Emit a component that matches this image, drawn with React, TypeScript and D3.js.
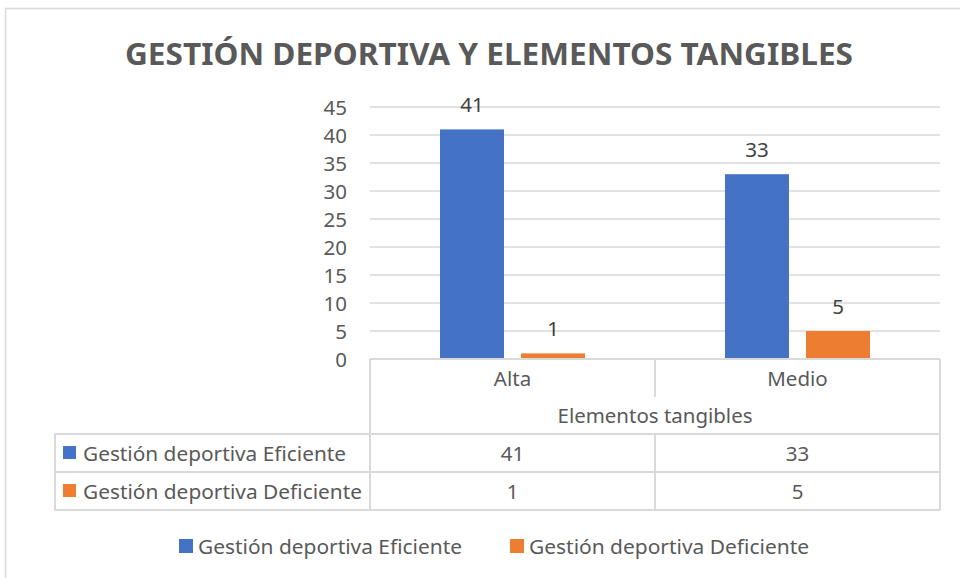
import React from 'react';
import * as d3 from 'd3';

const title = 'GESTIÓN DEPORTIVA Y ELEMENTOS TANGIBLES';
const categories = ['Alta', 'Medio'];
const axisTitle = 'Elementos tangibles';
const seriesNames = ['Gestión deportiva Eficiente', 'Gestión deportiva Deficiente'];
const eficiente = [41, 33];
const deficiente = [1, 5];
const seriesColors = ['#4472C4', '#ED7D31'];
const yMax = 45;

const FONT = '"Noto Sans", "Open Sans", sans-serif';
const TXT = '#595959';
const GRID = '#D9D9D9';
const FS = 20.5;

export default function App() {
  const W = 960, H = 578;
  const left = 370, right = 940, top = 107, bottom = 359;
  const values = [eficiente, deficiente];
  const y = d3.scaleLinear().domain([0, yMax]).range([bottom, top]);
  const x0 = d3.scaleBand<string>().domain(categories).range([left, right]).padding(0);
  const groupW = 145;
  const x1 = d3.scaleBand<string>().domain(seriesNames).range([0, groupW]).paddingInner(0.21).paddingOuter(0);
  const ticks = y.ticks(9);
  const colW = x0.bandwidth();

  const rowHead = [359, 397];
  const rowTitle = [397, 434];
  const rowData = [[434, 472], [472, 510]];
  const tableLeft = 55;

  return (
    <svg width={W} height={H} style={{ position: 'absolute', left: 0, top: 0, background: '#fff' }} fontFamily={FONT}>
      <rect x={0} y={0} width={W} height={H} fill="#fff" />
      {/* outer chart border */}
      <path d={`M5.5,${H} V8.5 H${W}`} fill="none" stroke={GRID} strokeWidth={1.5} />
      <text x={489} y={65} textAnchor="middle" fontSize={31} fontWeight="bold" fill={TXT} textLength={728} lengthAdjust="spacingAndGlyphs">{title}</text>

      {/* gridlines */}
      {ticks.filter(t => t > 0).map(t => (
        <line key={t} x1={left} x2={right} y1={y(t)} y2={y(t)} stroke={GRID} strokeWidth={1.5} />
      ))}
      {ticks.map(t => (
        <text key={'t' + t} x={347} y={y(t) + 7.5} textAnchor="end" fontSize={FS} fill={TXT}>{t}</text>
      ))}

      {/* bars */}
      {categories.map((c, i) => (
        <g key={c} transform={`translate(${(x0(c) as number) + (colW - groupW) / 2},0)`}>
          {seriesNames.map((s, j) => {
            const v = values[j][i];
            const bx = x1(s) as number;
            return (
              <g key={s}>
                <rect x={bx} y={y(v)} width={x1.bandwidth()} height={bottom - y(v)} fill={seriesColors[j]} />
                <text x={bx + x1.bandwidth() / 2} y={y(v) - 17} textAnchor="middle" fontSize={FS} fill="#404040">{v}</text>
              </g>
            );
          })}
        </g>
      ))}

      {/* data table lines */}
      <g stroke={GRID} strokeWidth={2} fill="none">
        <line x1={left} x2={right} y1={bottom} y2={bottom} />
        <line x1={left} x2={left} y1={bottom} y2={rowData[1][1]} />
        <line x1={right} x2={right} y1={bottom} y2={rowData[1][1]} />
        <line x1={left + colW} x2={left + colW} y1={rowHead[0]} y2={rowHead[1]} />
        <line x1={left + colW} x2={left + colW} y1={rowData[0][0]} y2={rowData[1][1]} />
        <line x1={tableLeft} x2={right} y1={rowData[0][0]} y2={rowData[0][0]} />
        <line x1={tableLeft} x2={right} y1={rowData[1][0]} y2={rowData[1][0]} />
        <line x1={tableLeft} x2={right} y1={rowData[1][1]} y2={rowData[1][1]} />
        <line x1={tableLeft} x2={tableLeft} y1={rowData[0][0]} y2={rowData[1][1]} />
      </g>
      {categories.map(c => (
        <text key={'h' + c} x={(x0(c) as number) + colW / 2} y={(rowHead[0] + rowHead[1]) / 2 + 7.5} textAnchor="middle" fontSize={FS} fill={TXT}>{c}</text>
      ))}
      <text x={(left + right) / 2} y={(rowTitle[0] + rowTitle[1]) / 2 + 7.5} textAnchor="middle" fontSize={FS} fill={TXT} textLength={195} lengthAdjust="spacingAndGlyphs">{axisTitle}</text>
      {seriesNames.map((s, j) => (
        <g key={'r' + s}>
          <rect x={63} y={(rowData[j][0] + rowData[j][1]) / 2 - 7} width={13} height={13} fill={seriesColors[j]} />
          <text x={83} y={(rowData[j][0] + rowData[j][1]) / 2 + 7.5} fontSize={FS} fill={TXT} textLength={j === 0 ? 263 : 279} lengthAdjust="spacingAndGlyphs">{s}</text>
          {categories.map((c, i) => (
            <text key={c} x={(x0(c) as number) + colW / 2} y={(rowData[j][0] + rowData[j][1]) / 2 + 7.5} textAnchor="middle" fontSize={FS} fill={TXT}>{values[j][i]}</text>
          ))}
        </g>
      ))}

      {/* legend */}
      {seriesNames.map((s, j) => {
        const lx = [179, 510][j];
        return (
          <g key={'l' + s}>
            <rect x={lx} y={539} width={14} height={14} fill={seriesColors[j]} />
            <text x={lx + 19} y={553.5} fontSize={FS} fill={TXT} textLength={j === 0 ? 264 : 280} lengthAdjust="spacingAndGlyphs">{s}</text>
          </g>
        );
      })}
    </svg>
  );
}
